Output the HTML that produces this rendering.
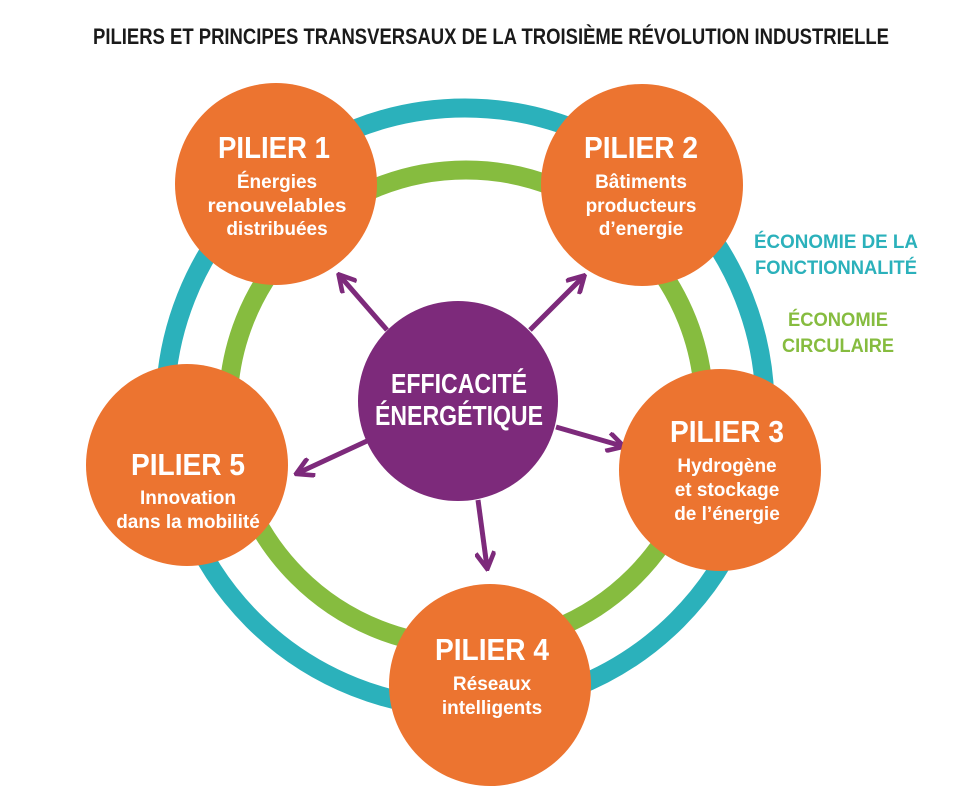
<!DOCTYPE html>
<html><head><meta charset="utf-8"><style>
html,body{margin:0;padding:0;background:#fff;}
svg{display:block;}
text{font-family:"Liberation Sans Narrow","Liberation Sans",sans-serif;font-weight:bold;text-anchor:middle;}
</style></head><body>
<svg width="980" height="793" viewBox="0 0 980 793" xmlns="http://www.w3.org/2000/svg">
<defs>
<marker id="ah" viewBox="0 0 10 10" refX="8" refY="5" markerWidth="4.2" markerHeight="4.2" orient="auto" markerUnits="strokeWidth">
<path d="M1,0.5 L9,5 L1,9.5" fill="none" stroke="#7d2a7b" stroke-width="2.2"/>
</marker>
</defs>
<text x="491" y="44" font-size="22" fill="#1a1a1a" textLength="796" lengthAdjust="spacingAndGlyphs">PILIERS ET PRINCIPES TRANSVERSAUX DE LA TROISIÈME RÉVOLUTION INDUSTRIELLE</text>
<circle cx="465" cy="408" r="300" fill="none" stroke="#2bb1bb" stroke-width="19"/>
<circle cx="466" cy="408" r="238" fill="none" stroke="#86bc3f" stroke-width="19"/>
<g stroke="#7d2a7b" stroke-width="5" fill="none" marker-end="url(#ah)">
<line x1="387" y1="330" x2="340" y2="276"/>
<line x1="530" y1="330" x2="583" y2="277"/>
<line x1="556" y1="427" x2="622" y2="446"/>
<line x1="367" y1="441" x2="298" y2="473"/>
<line x1="478" y1="500" x2="487" y2="567"/>
</g>
<g fill="#ec7430">
<circle cx="276" cy="184" r="101"/>
<circle cx="642" cy="185" r="101"/>
<circle cx="720" cy="470" r="101"/>
<circle cx="490" cy="685" r="101"/>
<circle cx="187" cy="465" r="101"/>
</g>
<circle cx="458" cy="401" r="100" fill="#7d2a7b"/>
<g fill="#fff">
<text x="459" y="393" font-size="28" textLength="136" lengthAdjust="spacingAndGlyphs">EFFICACITÉ</text>
<text x="459" y="425" font-size="28" textLength="168" lengthAdjust="spacingAndGlyphs">ÉNERGÉTIQUE</text>

<text x="274" y="158" font-size="31" textLength="112" lengthAdjust="spacingAndGlyphs">PILIER 1</text>
<text x="277" y="188" font-size="19">Énergies</text>
<text x="277" y="212" font-size="19" textLength="139" lengthAdjust="spacingAndGlyphs">renouvelables</text>
<text x="277" y="235" font-size="19">distribuées</text>

<text x="641" y="158" font-size="31" textLength="114" lengthAdjust="spacingAndGlyphs">PILIER 2</text>
<text x="641" y="188" font-size="19">Bâtiments</text>
<text x="641" y="212" font-size="19">producteurs</text>
<text x="641" y="235" font-size="19">d’energie</text>

<text x="727" y="442" font-size="31" textLength="114" lengthAdjust="spacingAndGlyphs">PILIER 3</text>
<text x="727" y="472" font-size="19">Hydrogène</text>
<text x="727" y="496" font-size="19">et stockage</text>
<text x="727" y="520" font-size="19">de l’énergie</text>

<text x="492" y="660" font-size="31" textLength="114" lengthAdjust="spacingAndGlyphs">PILIER 4</text>
<text x="492" y="690" font-size="19">Réseaux</text>
<text x="492" y="714" font-size="19">intelligents</text>

<text x="188" y="475" font-size="31" textLength="114" lengthAdjust="spacingAndGlyphs">PILIER 5</text>
<text x="188" y="504" font-size="19">Innovation</text>
<text x="188" y="528" font-size="19">dans la mobilité</text>
</g>
<text x="836" y="248" font-size="19" fill="#2bb1bb" textLength="164" lengthAdjust="spacingAndGlyphs">ÉCONOMIE DE LA</text>
<text x="836" y="274" font-size="19" fill="#2bb1bb" textLength="162" lengthAdjust="spacingAndGlyphs">FONCTIONNALITÉ</text>
<text x="838" y="326" font-size="19" fill="#86bc3f" textLength="100" lengthAdjust="spacingAndGlyphs">ÉCONOMIE</text>
<text x="838" y="352" font-size="19" fill="#86bc3f" textLength="112" lengthAdjust="spacingAndGlyphs">CIRCULAIRE</text>
</svg>
</body></html>
